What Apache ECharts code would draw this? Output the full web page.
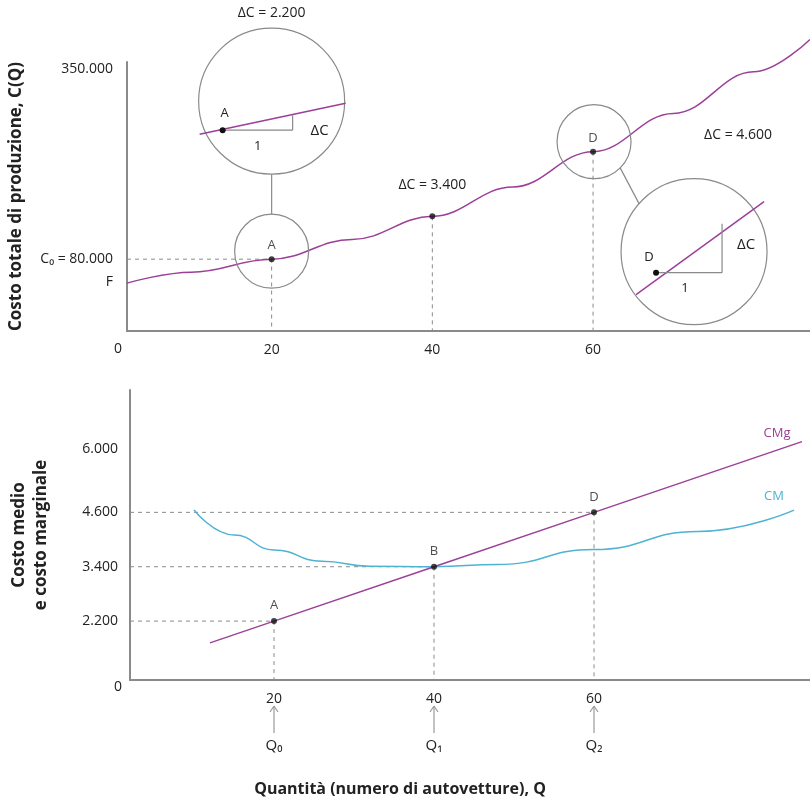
<!DOCTYPE html>
<html><head><meta charset="utf-8">
<script src="https://cdn.jsdelivr.net/npm/echarts@6/dist/echarts.min.js"></script>
<style>html,body{margin:0;padding:0;background:#fff}#c{width:810px;height:808px}</style>
</head><body><div id="c"></div>
<script>
const totalCostQ = [2, 10, 20, 30, 40, 50, 60, 70, 80, 87];
const totalCost = [46000, 61600, 80000, 108000, 140800, 182500, 232700, 287000, 346000, 392000];
const mcQ = [12, 20, 40, 60, 86];
const marginalCost = [1720, 2200, 3400, 4600, 6160];
const acQ = [10, 15, 20, 26, 32, 40, 48, 60, 73, 85];
const averageCost = [4650, 4100, 3770, 3520, 3410, 3400, 3450, 3780, 4180, 4650];
const topPoints = [[20, 80000, 'A'], [40, 140800, ''], [60, 232700, 'D']];
const botPoints = [[20, 2200, 'A'], [40, 3400, 'B'], [60, 4600, 'D']];
const xTicks = [20, 40, 60];
const topYTicks = [48000, 80000, 350000];
const topYLabels = {48000: 'F', 80000: 'C₀ = 80.000', 350000: '350.000'};
const botYTicks = [2200, 3400, 4600, 6000];
const deltaLabels = ['ΔC = 2.200', 'ΔC = 3.400', 'ΔC = 4.600'];
const qLabels = ['Q₀', 'Q₁', 'Q₂'];

const PURPLE = '#9c3f98', BLUE = '#4eb3d3', GRAY = '#8a8a8a', TXT = '#222';
const fmt = v => String(v).replace(/\B(?=(\d{3})+(?!\d))/g, '.');
const FONT = '"Open Sans", "Noto Sans", sans-serif';

const chart = echarts.init(document.getElementById('c'));
const xAxisBase = (gi) => ({
  type: 'value', gridIndex: gi, min: 2, max: 87,
  axisLine: {onZero: false, lineStyle: {color: GRAY, width: 2}},
  axisTick: {show: false}, splitLine: {show: false},
  axisLabel: {customValues: xTicks, color: TXT, fontSize: 14, fontFamily: FONT, margin: 12}
});
const dash = {color: GRAY, type: [4, 4], width: 1};
const seriesDash = (xi, data) => ({type: 'line', xAxisIndex: xi, yAxisIndex: xi, data, symbol: 'none', lineStyle: dash, silent: true, z: 1});

const series = [
  {type: 'line', xAxisIndex: 0, yAxisIndex: 0, data: totalCostQ.map((q, i) => [q, totalCost[i]]), smooth: 0.4, smoothMonotone: 'x', symbol: 'none', clip: false, lineStyle: {color: PURPLE, width: 1.5}, z: 3},
  seriesDash(0, [[2, topPoints[0][1]], [20, topPoints[0][1]], [20, -22000]]),
  seriesDash(0, [[40, topPoints[1][1]], [40, -22000]]),
  seriesDash(0, [[60, topPoints[2][1]], [60, -22000]]),
  {type: 'scatter', xAxisIndex: 0, yAxisIndex: 0, data: topPoints.map(p => ({value: [p[0], p[1]], label: {show: !!p[2], formatter: p[2]}})), symbolSize: 6, itemStyle: {color: '#111'}, label: {position: 'top', color: TXT, fontSize: 13, fontFamily: FONT, distance: 4}, z: 5},
  {type: 'line', xAxisIndex: 1, yAxisIndex: 1, data: acQ.map((q, i) => [q, averageCost[i]]), smooth: 0.5, smoothMonotone: 'x', symbol: 'none', lineStyle: {color: BLUE, width: 1.5}, z: 3},
  {type: 'line', xAxisIndex: 1, yAxisIndex: 1, data: mcQ.map((q, i) => [q, marginalCost[i]]), symbol: 'none', clip: false, lineStyle: {color: PURPLE, width: 1.5}, z: 3},
  ...botPoints.map(p => seriesDash(1, [[2, p[1]], [p[0], p[1]], [p[0], 900]])),
  {type: 'scatter', xAxisIndex: 1, yAxisIndex: 1, data: botPoints.map(p => ({value: [p[0], p[1]], label: {formatter: p[2]}})), symbolSize: 6, itemStyle: {color: '#111'}, label: {show: true, position: 'top', color: TXT, fontSize: 13, fontFamily: FONT, distance: 6}, z: 5}
];

chart.setOption({
  animation: false,
  grid: [{left: 126, right: 0, top: 62, bottom: 808 - 331}, {left: 126, right: 0, top: 390, bottom: 808 - 680}],
  xAxis: [xAxisBase(0), xAxisBase(1)],
  yAxis: [
    {type: 'value', gridIndex: 0, min: -22000, max: 360000, axisLine: {show: true, onZero: false, lineStyle: {color: GRAY, width: 2}}, axisTick: {show: false}, splitLine: {show: false},
     axisLabel: {customValues: topYTicks, formatter: v => topYLabels[v] || '', color: TXT, fontSize: 14, fontFamily: FONT, margin: 14},
     name: 'Costo totale di produzione, C(Q)', nameLocation: 'middle', nameGap: 102, nameRotate: 90,
     nameTextStyle: {fontSize: 17, fontWeight: 'bold', color: TXT, fontFamily: FONT}},
    {type: 'value', gridIndex: 1, min: 900, max: 7300, axisLine: {show: true, onZero: false, lineStyle: {color: GRAY, width: 2}}, axisTick: {show: false}, splitLine: {show: false},
     axisLabel: {customValues: botYTicks, formatter: v => fmt(v), color: TXT, fontSize: 14, fontFamily: FONT, margin: 12},
     name: 'Costo medio\ne costo marginale', nameLocation: 'middle', nameGap: 78, nameRotate: 90,
     nameTextStyle: {fontSize: 17, fontWeight: 'bold', color: TXT, fontFamily: FONT, lineHeight: 22}}
  ],
  series
});

const P = (gi, x, y) => chart.convertToPixel({xAxisIndex: gi, yAxisIndex: gi}, [x, y]);
const txt = (x, y, t, o = {}) => ({type: 'text', x, y, style: Object.assign({text: t, fill: TXT, font: '14px ' + FONT, align: 'center', verticalAlign: 'middle'}, o), z: 10});
const circ = (cx, cy, r) => ({type: 'circle', shape: {cx, cy, r}, style: {fill: 'rgba(255,255,255,0)', stroke: GRAY, lineWidth: 1.2}, z: 8});
const ln = (x1, y1, x2, y2, c = GRAY, w = 1.2) => ({type: 'line', shape: {x1, y1, x2, y2}, style: {stroke: c, lineWidth: w}, z: 8});
const dot = (cx, cy) => ({type: 'circle', shape: {cx, cy, r: 3}, style: {fill: '#111'}, z: 11});

const g = [];
const a = P(0, topPoints[0][0], topPoints[0][1]);
const d = P(0, topPoints[2][0], topPoints[2][1]);
const m = P(0, topPoints[1][0], topPoints[1][1]);
let sx = a[0], sy = a[1] - 8, bx = a[0], by = sy - 150;
g.push(circ(sx, sy, 37), circ(bx, by, 73), ln(sx, sy - 37, bx, by + 73));
g.push(ln(bx - 72, by + 33, bx + 74, by + 2, PURPLE, 1.5), ln(bx - 49, by + 29, bx + 21, by + 29), ln(bx + 21, by + 29, bx + 21, by + 14));
g.push(dot(bx - 49, by + 29), txt(bx - 47, by + 12, 'A', {font: '13px ' + FONT}), txt(bx - 14, by + 45, '1', {font: '13px ' + FONT}), txt(bx + 48, by + 30, 'ΔC', {font: '15px ' + FONT}));
g.push(txt(bx, by - 88, deltaLabels[0]));
g.push(txt(m[0], m[1] - 31, deltaLabels[1]));
sx = d[0] + 1; sy = d[1] - 10; bx = sx + 100; by = sy + 110;
g.push(circ(sx, sy, 37), circ(bx, by, 73), ln(sx + 26, sy + 26, bx - 55, by - 48));
g.push(ln(bx - 58, by + 43, bx + 70, by - 50, PURPLE, 1.5), ln(bx - 38, by + 21, bx + 28, by + 21), ln(bx + 28, by + 21, bx + 28, by - 28));
g.push(dot(bx - 38, by + 21), txt(bx - 45, by + 6, 'D', {font: '13px ' + FONT}), txt(bx - 9, by + 37, '1', {font: '13px ' + FONT}), txt(bx + 52, by - 7, 'ΔC', {font: '15px ' + FONT}));
g.push(txt(bx + 44, by - 117, deltaLabels[2]));
g.push(txt(118, 349, '0'), txt(118, 687, '0'));
const mcEnd = P(1, mcQ[mcQ.length - 1], marginalCost[marginalCost.length - 1]);
const acEnd = P(1, acQ[acQ.length - 1], averageCost[averageCost.length - 1]);
g.push(txt(mcEnd[0] - 25, mcEnd[1] - 8, 'CMg', {fill: PURPLE, font: '13px ' + FONT}));
g.push(txt(acEnd[0] - 20, acEnd[1] - 14, 'CM', {fill: BLUE, font: '13px ' + FONT}));
xTicks.forEach((q, i) => {
  const x = P(1, q, 900)[0];
  g.push(ln(x, 733, x, 706, '#999', 1.2), ln(x, 706, x - 4, 712, '#999', 1.2), ln(x, 706, x + 4, 712, '#999', 1.2));
  g.push(txt(x, 746, qLabels[i], {font: '15px ' + FONT}));
});
g.push(txt(400, 789, 'Quantità (numero di autovetture), Q', {font: 'bold 16px ' + FONT}));
chart.setOption({graphic: g});
</script></body></html>
